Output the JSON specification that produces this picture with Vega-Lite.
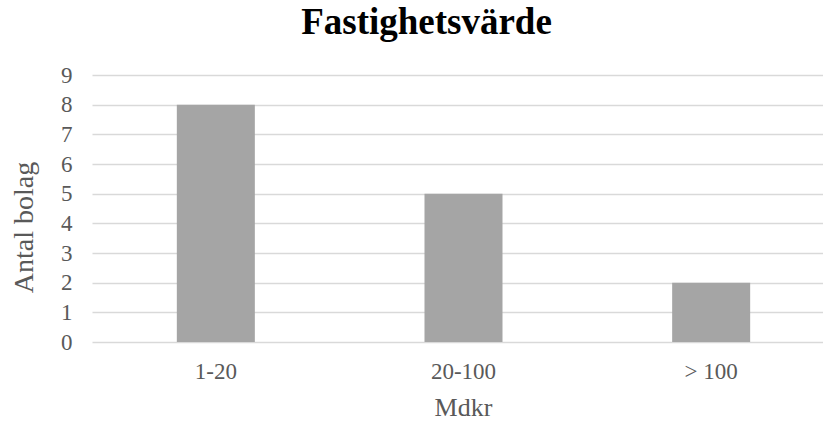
{
  "$schema": "https://vega.github.io/schema/vega-lite/v6.json",
  "autosize": "none",
  "width": 731,
  "height": 267,
  "padding": {"left": 92, "top": 75, "right": 0, "bottom": 79},
  "background": "white",
  "title": {
    "text": "Fastighetsvärde",
    "font": "Liberation Serif",
    "fontSize": 37,
    "fontWeight": "bold",
    "color": "#000000",
    "anchor": "middle",
    "baseline": "alphabetic",
    "dx": -31,
    "offset": -7
  },
  "data": {
    "values": [
      {"kategori": "1-20", "antal": 8},
      {"kategori": "20-100", "antal": 5},
      {"kategori": "> 100", "antal": 2}
    ]
  },
  "mark": {"type": "bar", "color": "#a5a5a5"},
  "encoding": {
    "x": {
      "field": "kategori",
      "type": "nominal",
      "sort": null,
      "scale": {"range": [0, 743], "paddingInner": 0.685, "paddingOuter": 0.3425},
      "axis": {
        "title": "Mdkr",
        "labelAngle": 0,
        "labelFont": "Liberation Serif",
        "labelFontSize": 23,
        "labelColor": "#595959",
        "labelBaseline": "alphabetic",
        "labelPadding": 36,
        "ticks": false,
        "tickSize": 0,
        "domain": false,
        "titleFont": "Liberation Serif",
        "titleFontSize": 26,
        "titleFontWeight": "normal",
        "titleColor": "#595959",
        "titleBaseline": "alphabetic",
        "titleY": 73,
        "titleX": 371
      }
    },
    "y": {
      "field": "antal",
      "type": "quantitative",
      "scale": {"domain": [0, 9]},
      "axis": {
        "title": "Antal bolag",
        "values": [0, 1, 2, 3, 4, 5, 6, 7, 8, 9],
        "labelFont": "Liberation Serif",
        "labelFontSize": 23,
        "labelColor": "#595959",
        "labelPadding": 20,
        "labelBaseline": "middle",
        "ticks": false,
        "tickSize": 0,
        "domain": false,
        "grid": true,
        "gridColor": "#d9d9d9",
        "gridWidth": 1.3,
        "titleFont": "Liberation Serif",
        "titleFontSize": 28,
        "titleFontWeight": "normal",
        "titleColor": "#595959",
        "titleAngle": -90,
        "titleAlign": "center",
        "titleBaseline": "alphabetic",
        "titleX": -60,
        "titleY": 152
      }
    }
  },
  "config": {
    "view": {"stroke": null},
    "axisX": {"grid": false}
  }
}
